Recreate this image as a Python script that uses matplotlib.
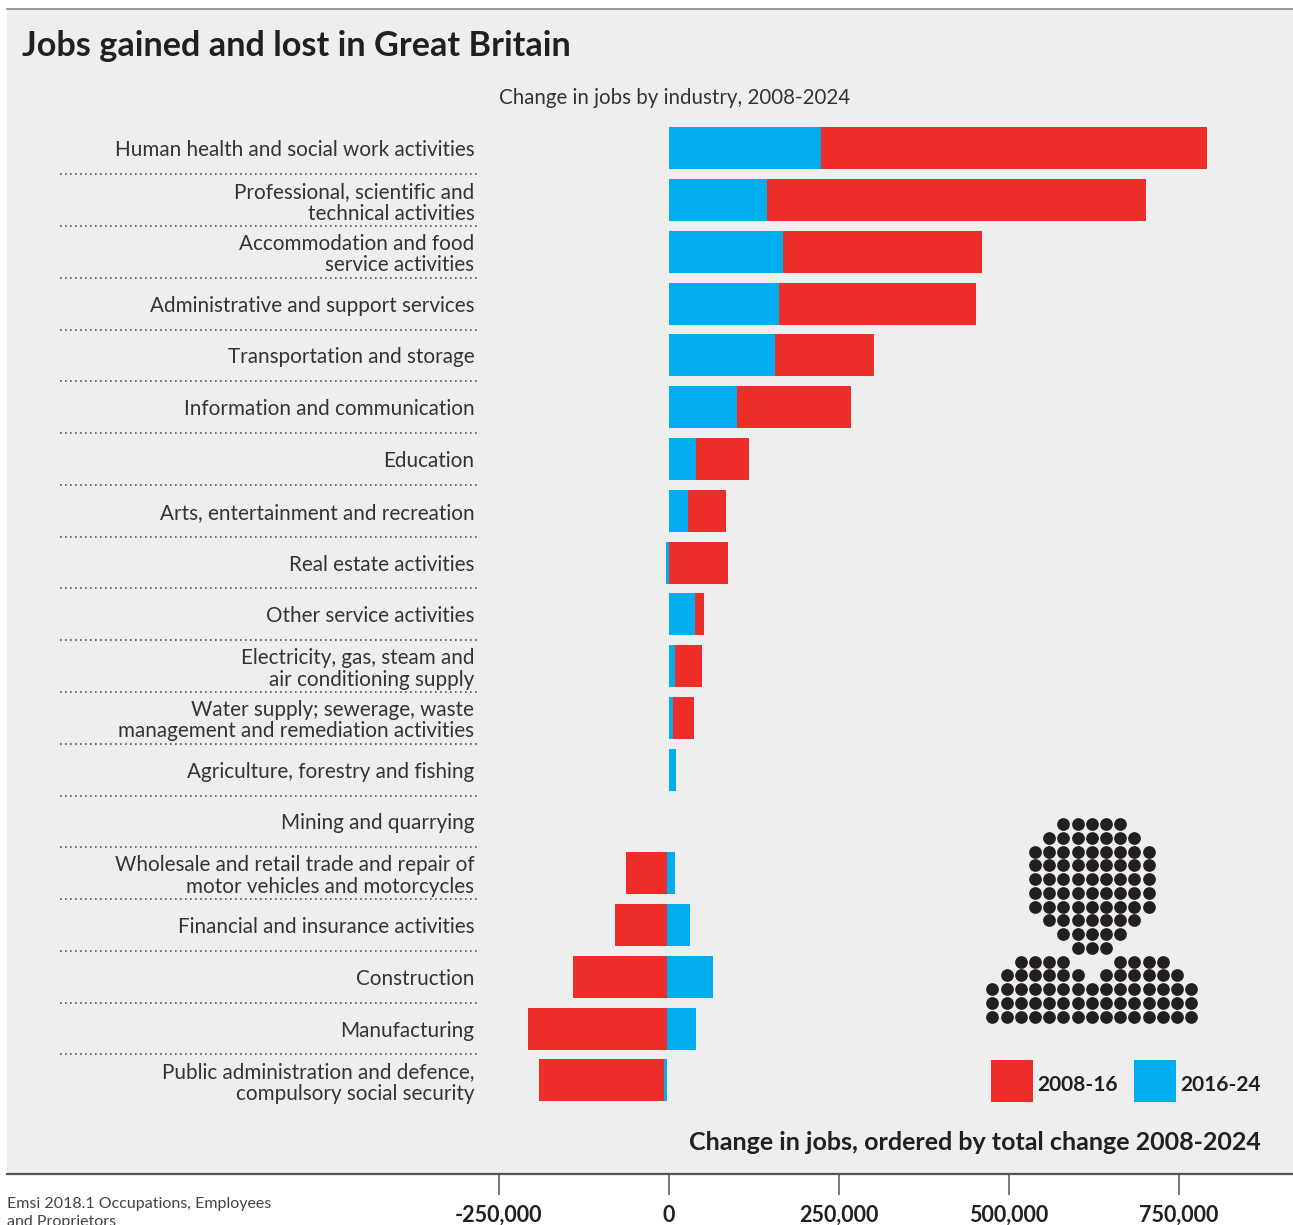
#jobs gained and lost, diverging stacked bars

import numpy as np
import matplotlib
matplotlib.use('Agg')
import matplotlib.pyplot as plt
from matplotlib.patches import Rectangle

plt.rcParams['font.family'] = ['Lato', 'DejaVu Sans']

industries = [
    'Human health and social work activities',
    'Professional, scientific and\ntechnical activities',
    'Accommodation and food\nservice activities',
    'Administrative and support services',
    'Transportation and storage',
    'Information and communication',
    'Education',
    'Arts, entertainment and recreation',
    'Real estate activities',
    'Other service activities',
    'Electricity, gas, steam and\nair conditioning supply',
    'Water supply; sewerage, waste\nmanagement and remediation activities',
    'Agriculture, forestry and fishing',
    'Mining and quarrying',
    'Wholesale and retail trade and repair of\nmotor vehicles and motorcycles',
    'Financial and insurance activities',
    'Construction',
    'Manufacturing',
    'Public administration and defence,\ncompulsory social security',
]
jobs_2008_16 = [568000, 557000, 293000, 290000, 146000, 168000, 78000, 56000, 87000, 13000,
                40000, 31000, 0, 0, -60000, -76000, -138000, -204000, -183000]
jobs_2016_24 = [223500, 144000, 168000, 162000, 156000, 100000, 40000, 28000, -5000, 38000,
                9000, 6000, 10000, 0, 12000, 34000, 68000, 43000, -5000]
x_ticks = [-250000, 0, 250000, 500000, 750000]
x_tick_labels = ['-250,000', '0', '250,000', '500,000', '750,000']

# dot picture of a person, one string per row
person = [
    '.....#####.....',
    '....#######....',
    '...#########...',
    '...#########...',
    '...#########...',
    '...#########...',
    '...#########...',
    '....#######....',
    '.....#####.....',
    '......###......',
    '..####...####..',
    '.######.######.',
    '###############',
    '###############',
    '###############',
]

RED = '#EE2F29'
BLUE = '#00AEEF'
BG = '#EEEEEE'
INK = '#231F20'
W, H = 1293, 1225

def fx(px):
    return px / W

def fy(py):
    return 1 - py / H

fig = plt.figure(figsize=(W / 100, H / 100), dpi=100, facecolor='white')
fig.add_artist(Rectangle((fx(7), fy(1174)), fx(1286), 1165 / H, transform=fig.transFigure,
                         facecolor=BG, edgecolor='none', zorder=-5))
fig.add_artist(plt.Line2D([fx(7), 1], [fy(9), fy(9)], color='#8a8a8a', lw=1.2))
fig.add_artist(plt.Line2D([fx(7), 1], [fy(1174), fy(1174)], color='#555555', lw=1.6))

ax = fig.add_axes([fx(475), fy(1174), fx(818), 1165 / H])
ax.patch.set_alpha(0)

red = np.array(jobs_2008_16, dtype=float)
blue = np.array(jobs_2016_24, dtype=float)
y = np.arange(len(industries))

# rows with a net loss hang off a slightly shifted baseline
base = np.where(red + blue < 0, -3000.0, 0.0)
blue_left = base
red_left = base + np.where(red * blue > 0, blue, 0.0)

ax.barh(y, blue, left=blue_left, height=42 / 51.78, color=BLUE, lw=0)
ax.barh(y, red, left=red_left, height=42 / 51.78, color=RED, lw=0)

ax.set_xlim((475 - 669) / 0.00068, (1293 - 669) / 0.00068)
ax.set_ylim((1174 - 148.3) / 51.78, (9 - 148.3) / 51.78)

for s in ax.spines.values():
    s.set_visible(False)

ax.set_yticks(y)
ax.set_yticklabels(industries, fontsize=14.9, color='#333333', linespacing=1.1)
ax.tick_params(axis='y', length=0, pad=0.5)
ax.set_xticks(x_ticks)
ax.set_xticklabels(x_tick_labels, fontsize=15.5, fontweight='bold', color=INK)
ax.tick_params(axis='x', length=15, width=1.1, color='#555555', pad=7)

# dotted rules between the rows
ax.hlines(y[:-1] + 0.5, (60 - 475) / 818, 2 / 818, transform=ax.get_yaxis_transform(), clip_on=False,
          color='#555555', lw=1.2, linestyles=(0, (1, 2)))

fig.text(fx(22), fy(46), 'Jobs gained and lost in Great Britain', fontsize=24.7, fontweight='bold',
         color=INK, va='center')
fig.text(fx(499), fy(98), 'Change in jobs by industry, 2008-2024', fontsize=14.8, color='#333333', va='center')
fig.text(fx(1261), fy(1143), 'Change in jobs, ordered by total change 2008-2024', fontsize=18,
         fontweight='bold', color=INK, ha='right', va='center')
fig.text(fx(7), fy(1197), 'Emsi 2018.1 Occupations, Employees\nand Proprietors', fontsize=11.5,
         color='#444444', va='top', linespacing=1.4)

# legend
for px, col, lab in [(991, RED, '2008-16'), (1134, BLUE, '2016-24')]:
    fig.add_artist(Rectangle((fx(px), fy(1102)), 42 / W, 42 / H, transform=fig.transFigure,
                             facecolor=col, edgecolor='none'))
    fig.text(fx(px + 46.5), fy(1085), lab, fontsize=15, fontweight='bold', color=INK, va='center')

# person icon
ax2 = fig.add_axes([fx(992.3 - 14.2), fy(1016.7 + 13.76), 14.2 * 16 / W, 13.76 * 16 / H])
ax2.axis('off')
ax2.set_xlim(-1, 15)
ax2.set_ylim(15, -1)
rows, cols = np.nonzero(np.array([[c == '#' for c in r] for r in person]))
ax2.scatter(cols, rows, s=84, color=INK, lw=0)

fig.savefig('out.png', dpi=100)
